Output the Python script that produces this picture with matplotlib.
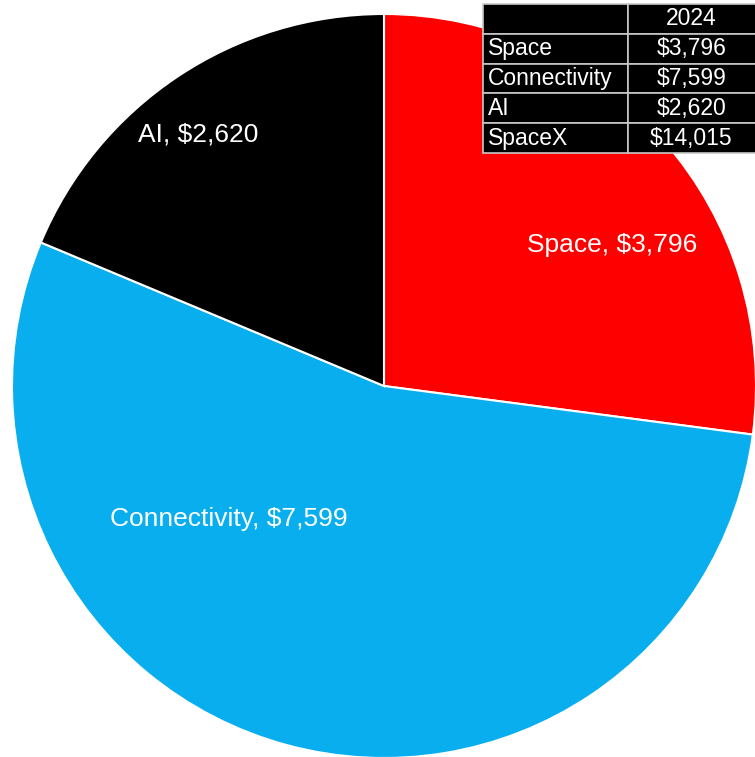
import numpy as np
import matplotlib.pyplot as plt
from matplotlib.patches import Rectangle

plt.rcParams['font.family'] = ['Liberation Sans', 'DejaVu Sans']

# 2024 revenue by segment
segments = ['Space', 'Connectivity', 'AI']
revenue = [3796, 7599, 2620]
total_label = 'SpaceX'
year = '2024'
colors = ['#ff0000', '#08aeed', '#000000']

# where each label sits: angle (deg) and distance from centre as share of radius
label_angles = [31.7, -139.3, 126.5]
label_dist = [0.72, 0.55, 0.84]

fig = plt.figure(figsize=(7.55, 7.57), dpi=100)
ax = fig.add_axes([0, 0, 1, 1])

cx, cy, r = 384, 371, 372
ax.pie(revenue, colors=colors, startangle=90, counterclock=False,
       center=(cx, cy), radius=r, frame=True,
       wedgeprops=dict(edgecolor='white', linewidth=1.5))
ax.set_xlim(0, 755)
ax.set_ylim(0, 757)
ax.set_aspect('equal')
ax.axis('off')

for name, val, a, d in zip(segments, revenue, label_angles, label_dist):
    t = np.deg2rad(a)
    ax.text(cx + d * r * np.cos(t), cy + d * r * np.sin(t), f'{name}, ${val:,}',
            color='white', fontsize=19, ha='center', va='center')

# summary table in the top-right corner
rows = [['', year]] + [[n, f'${v:,}'] for n, v in zip(segments, revenue)]
rows.append([total_label, f'${sum(revenue):,}'])
col_x = [483, 628, 760]
top, row_h = 753, 29.8
for i, (left_txt, right_txt) in enumerate(rows):
    y0 = top - (i + 1) * row_h
    for j in range(2):
        ax.add_patch(Rectangle((col_x[j], y0), col_x[j + 1] - col_x[j], row_h,
                               facecolor='black', edgecolor='#c8c8c8',
                               linewidth=1.2, zorder=5))
    yc = y0 + row_h / 2
    ax.text(col_x[0] + 5, yc, left_txt, color='white', fontsize=16.5,
            ha='left', va='center', zorder=6)
    ax.text((col_x[1] + 755) / 2, yc, right_txt, color='white', fontsize=16.5,
            ha='center', va='center', zorder=6)

fig.savefig('out.png', dpi=100, facecolor='white')
